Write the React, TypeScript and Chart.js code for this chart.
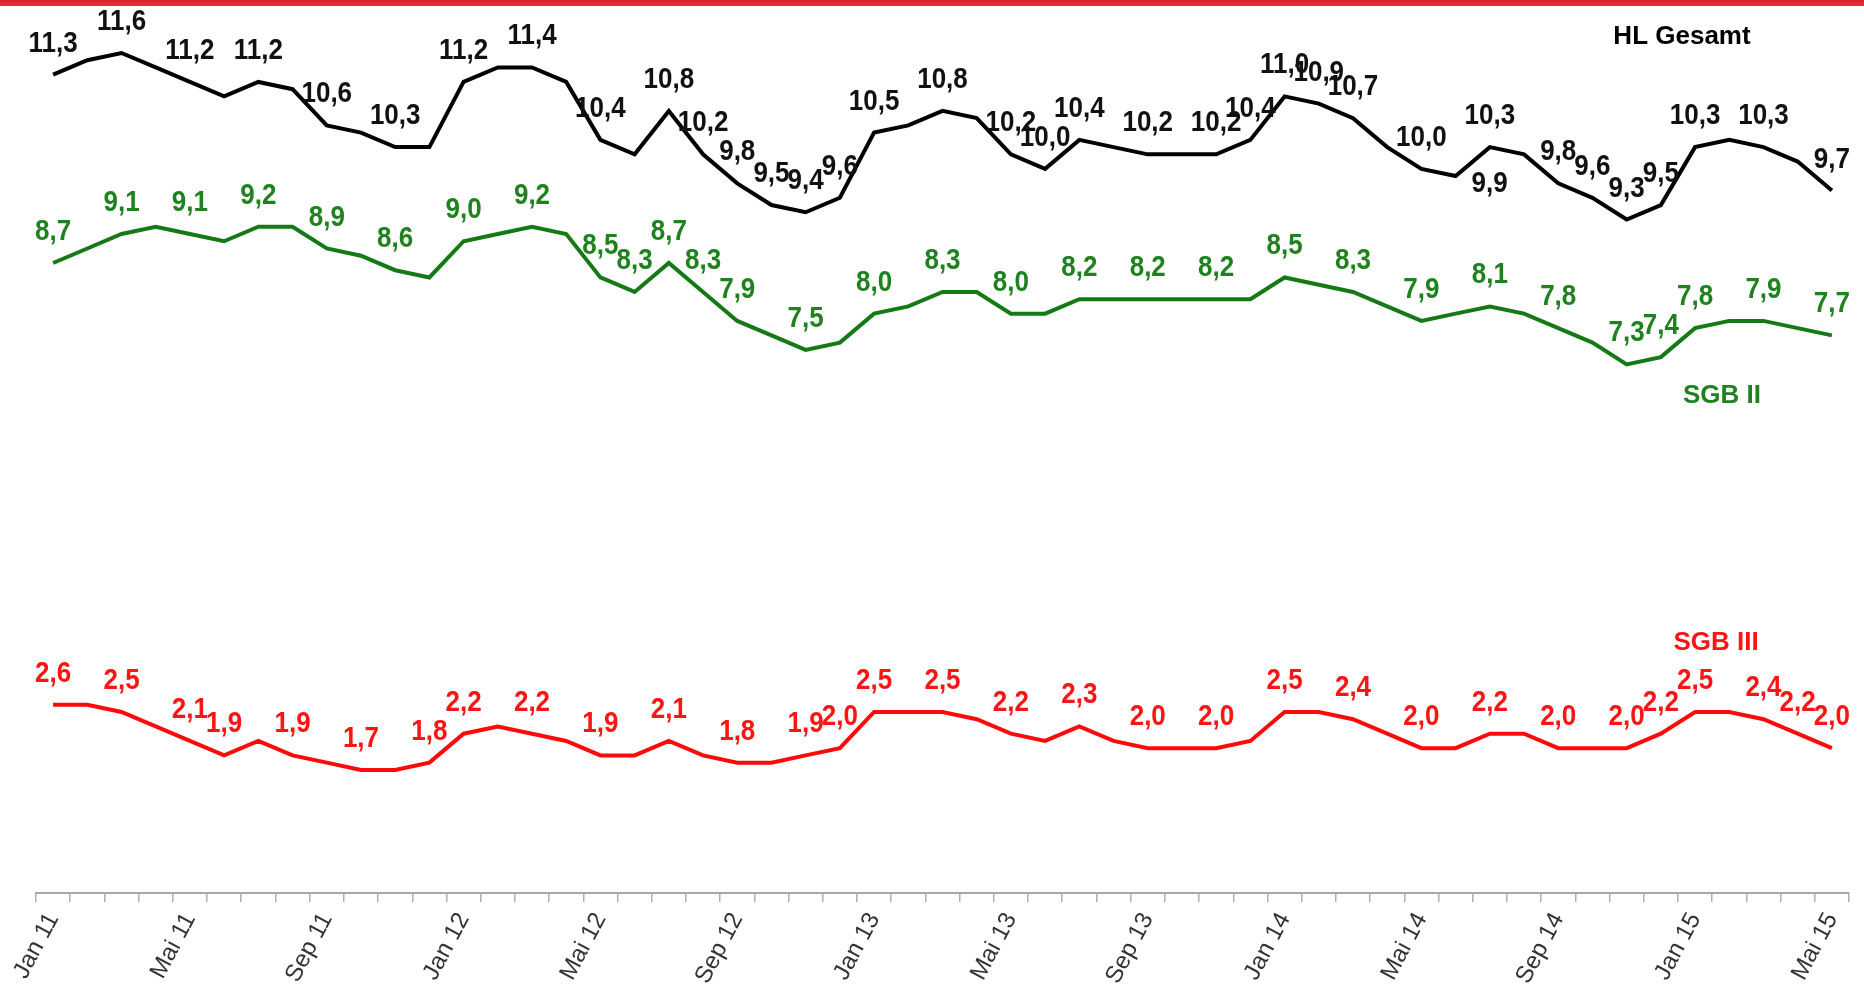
import React, { useEffect, useRef } from "react";
import { Chart, registerables } from "chart.js";

Chart.register(...registerables);

const MONTHS = ["Jan", "Feb", "Mär", "Apr", "Mai", "Jun", "Jul", "Aug", "Sep", "Okt", "Nov", "Dez"];
const YEARS = ["11", "12", "13", "14", "15"];
const N_POINTS = 53;
const categories: string[] = [];
for (let i = 0; i < N_POINTS; i++) {
  categories.push(MONTHS[i % 12] + " " + YEARS[Math.floor(i / 12)]);
}

const hlGesamt = [
  11.3, 11.5, 11.6, 11.4, 11.2, 11.0, 11.2, 11.1, 10.6, 10.5, 10.3, 10.3,
  11.2, 11.4, 11.4, 11.2, 10.4, 10.2, 10.8, 10.2, 9.8, 9.5, 9.4, 9.6,
  10.5, 10.6, 10.8, 10.7, 10.2, 10.0, 10.4, 10.3, 10.2, 10.2, 10.2, 10.4,
  11.0, 10.9, 10.7, 10.3, 10.0, 9.9, 10.3, 10.2, 9.8, 9.6, 9.3, 9.5,
  10.3, 10.4, 10.3, 10.1, 9.7,
];
const sgb2 = [
  8.7, 8.9, 9.1, 9.2, 9.1, 9.0, 9.2, 9.2, 8.9, 8.8, 8.6, 8.5,
  9.0, 9.1, 9.2, 9.1, 8.5, 8.3, 8.7, 8.3, 7.9, 7.7, 7.5, 7.6,
  8.0, 8.1, 8.3, 8.3, 8.0, 8.0, 8.2, 8.2, 8.2, 8.2, 8.2, 8.2,
  8.5, 8.4, 8.3, 8.1, 7.9, 8.0, 8.1, 8.0, 7.8, 7.6, 7.3, 7.4,
  7.8, 7.9, 7.9, 7.8, 7.7,
];
const sgb3 = [
  2.6, 2.6, 2.5, 2.3, 2.1, 1.9, 2.1, 1.9, 1.8, 1.7, 1.7, 1.8,
  2.2, 2.3, 2.2, 2.1, 1.9, 1.9, 2.1, 1.9, 1.8, 1.8, 1.9, 2.0,
  2.5, 2.5, 2.5, 2.4, 2.2, 2.1, 2.3, 2.1, 2.0, 2.0, 2.0, 2.1,
  2.5, 2.5, 2.4, 2.2, 2.0, 2.0, 2.2, 2.2, 2.0, 2.0, 2.0, 2.2,
  2.5, 2.5, 2.4, 2.2, 2.0,
];

// which points carry a value label
const hlLabelIdx = [0, 2, 4, 6, 8, 10, 12, 14, 16, 18, 19, 20, 21, 22, 23, 24, 26, 28, 29, 30, 32, 34, 35, 36, 37, 38, 40, 41, 42, 44, 45, 46, 47, 48, 50, 52];
const sgb2LabelIdx = [0, 2, 4, 6, 8, 10, 12, 14, 16, 17, 18, 19, 20, 22, 24, 26, 28, 30, 32, 34, 36, 38, 40, 42, 44, 46, 47, 48, 50, 52];
const sgb3LabelIdx = [0, 2, 4, 5, 7, 9, 11, 12, 14, 16, 18, 20, 22, 23, 24, 26, 28, 30, 32, 34, 36, 38, 40, 42, 44, 46, 47, 48, 50, 51, 52];
const hlLabelBelow = [41];

const seriesNames = ["HL Gesamt", "SGB II", "SGB III"];
const COLORS = ["#000000", "#157a15", "#ff0a0a"];
const LABEL_COLORS = ["#111111", "#1f821f", "#ff1414"];

const FONT = "'Liberation Sans', Arial, sans-serif";

const valueLabelPlugin = {
  id: "valueLabels",
  afterDatasetsDraw(chart: any) {
    const ctx = chart.ctx;
    const idxSets = [hlLabelIdx, sgb2LabelIdx, sgb3LabelIdx];
    ctx.save();
    ctx.font = `bold 26px ${FONT}`;
    ctx.textAlign = "center";
    ctx.textBaseline = "middle";
    chart.data.datasets.forEach((ds: any, di: number) => {
      const meta = chart.getDatasetMeta(di);
      ctx.fillStyle = LABEL_COLORS[di];
      idxSets[di].forEach((i: number) => {
        const pt = meta.data[i];
        const v = ds.data[i] as number;
        const text = v.toFixed(1).replace(".", ",");
        let x = pt.x;
        let y = pt.y - 31;
        if (di === 0 && hlLabelBelow.includes(i)) {
          x = pt.x + 34;
          y = pt.y + 8;
        }
        ctx.save();
        ctx.translate(x, y);
        ctx.scale(1, 1.12);
        ctx.fillText(text, 0, 0);
        ctx.restore();
      });
    });
    // series name labels
    ctx.font = `bold 26px ${FONT}`;
    const namePos = [
      [1682, 37],
      [1722, 396],
      [1716, 643],
    ];
    seriesNames.forEach((name, i) => {
      ctx.fillStyle = i === 0 ? "#000000" : LABEL_COLORS[i];
      ctx.fillText(name, namePos[i][0], namePos[i][1]);
    });
    ctx.restore();
  },
};

export default function App() {
  const canvasRef = useRef<HTMLCanvasElement | null>(null);

  useEffect(() => {
    if (!canvasRef.current) return;
    const datasets = [hlGesamt, sgb2, sgb3].map((d, i) => ({
      label: seriesNames[i],
      data: d,
      borderColor: COLORS[i],
      backgroundColor: COLORS[i],
      borderWidth: 4,
      pointRadius: 0,
      tension: 0,
      fill: false,
    }));
    const chart = new Chart(canvasRef.current, {
      type: "line",
      data: { labels: categories, datasets },
      plugins: [valueLabelPlugin],
      options: {
        animation: false,
        responsive: true,
        maintainAspectRatio: false,
        devicePixelRatio: 1,
        layout: { padding: { left: 36, right: 15, top: 24, bottom: 0 } },
        plugins: {
          legend: { display: false },
          tooltip: { enabled: false },
          title: { display: false },
        },
        scales: {
          x: {
            offset: true,
            grid: {
              display: true,
              offset: true,
              drawOnChartArea: false,
              drawTicks: true,
              tickLength: 9,
              color: "#b0b0b0",
              lineWidth: 1.5,
            },
            border: { display: true, color: "#a8a8a8", width: 2 },
            ticks: {
              autoSkip: false,
              minRotation: 62,
              maxRotation: 62,
              padding: 6,
              color: "#333333",
              font: { family: FONT, size: 24 },
              callback: (_v: any, index: number) => (index % 4 === 0 ? categories[index] : ""),
            },
            afterFit: (scale: any) => {
              scale.height = 102;
              scale.paddingLeft = 0;
              scale.paddingRight = 0;
            },
          },
          y: {
            display: false,
            min: 0,
            max: 12,
          },
        },
      },
    });
    return () => chart.destroy();
  }, []);

  return (
    <div style={{ position: "fixed", left: 0, top: 0, width: 1864, height: 995, background: "#ffffff" }}>
      <div
        style={{
          position: "absolute",
          left: 0,
          top: 0,
          width: 1864,
          height: 6,
          background: "linear-gradient(#d8202c, #e8343c)",
        }}
      />
      <canvas ref={canvasRef} style={{ width: 1864, height: 995 }} />
    </div>
  );
}
